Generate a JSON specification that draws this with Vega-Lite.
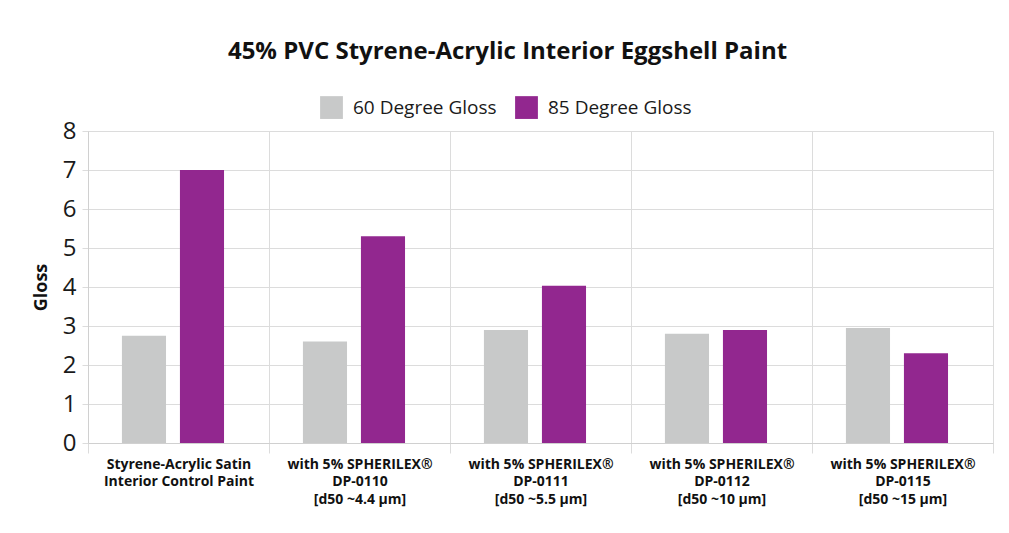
{
  "$schema": "https://vega.github.io/schema/vega-lite/v6.json",
  "width": 905,
  "height": 312,
  "autosize": {"type": "none"},
  "padding": {"left": 88, "top": 131, "right": 16, "bottom": 90},
  "background": "white",
  "title": {
    "text": "45% PVC Styrene-Acrylic Interior Eggshell Paint",
    "font": "Open Sans",
    "fontSize": 24,
    "fontWeight": "bold",
    "color": "#111",
    "anchor": "middle",
    "frame": "group",
    "dx": -33,
    "offset": 32
  },
  "data": {
    "values": [
      {"product": "Styrene-Acrylic Satin|Interior Control Paint", "series": "60 Degree Gloss", "gloss": 2.75},
      {"product": "Styrene-Acrylic Satin|Interior Control Paint", "series": "85 Degree Gloss", "gloss": 7.0},
      {"product": "with 5% SPHERILEX®|DP-0110|[d50 ~4.4 µm]", "series": "60 Degree Gloss", "gloss": 2.6},
      {"product": "with 5% SPHERILEX®|DP-0110|[d50 ~4.4 µm]", "series": "85 Degree Gloss", "gloss": 5.3},
      {"product": "with 5% SPHERILEX®|DP-0111|[d50 ~5.5 µm]", "series": "60 Degree Gloss", "gloss": 2.9},
      {"product": "with 5% SPHERILEX®|DP-0111|[d50 ~5.5 µm]", "series": "85 Degree Gloss", "gloss": 4.03},
      {"product": "with 5% SPHERILEX®|DP-0112|[d50 ~10 µm]", "series": "60 Degree Gloss", "gloss": 2.8},
      {"product": "with 5% SPHERILEX®|DP-0112|[d50 ~10 µm]", "series": "85 Degree Gloss", "gloss": 2.9},
      {"product": "with 5% SPHERILEX®|DP-0115|[d50 ~15 µm]", "series": "60 Degree Gloss", "gloss": 2.95},
      {"product": "with 5% SPHERILEX®|DP-0115|[d50 ~15 µm]", "series": "85 Degree Gloss", "gloss": 2.3}
    ]
  },
  "mark": {"type": "bar"},
  "encoding": {
    "x": {
      "field": "product",
      "type": "nominal",
      "sort": null,
      "scale": {"paddingInner": 0, "paddingOuter": 0},
      "axis": {
        "title": null,
        "labelAngle": 0,
        "labelExpr": "split(datum.label, '|')",
        "labelFont": "Open Sans",
        "labelFontSize": 14,
        "labelFontWeight": "bold",
        "labelColor": "#111",
        "labelLineHeight": 17.5,
        "labelPadding": 4,
        "labelBaseline": "top",
        "tickBand": "extent",
        "tickSize": 10,
        "tickColor": "#dcdcdc",
        "grid": true,
        "gridColor": "#dcdcdc",
        "domainColor": "#d0d0d0"
      }
    },
    "xOffset": {
      "field": "series",
      "type": "nominal",
      "scale": {"paddingInner": 0.24, "paddingOuter": 0.68, "align": 0.43}
    },
    "y": {
      "field": "gloss",
      "type": "quantitative",
      "scale": {"domain": [0, 8], "nice": false},
      "axis": {
        "title": "Gloss",
        "titleFont": "Open Sans",
        "titleFontSize": 18,
        "titleFontWeight": "bold",
        "titleColor": "#111",
        "titlePadding": 12,
        "values": [0, 1, 2, 3, 4, 5, 6, 7, 8],
        "labelFont": "Open Sans",
        "labelFontSize": 24,
        "labelColor": "#1a1a1a",
        "labelPadding": 6,
        "tickSize": 6,
        "tickColor": "#dcdcdc",
        "gridColor": "#dcdcdc",
        "domainColor": "#d0d0d0"
      }
    },
    "color": {
      "field": "series",
      "type": "nominal",
      "scale": {"domain": ["60 Degree Gloss", "85 Degree Gloss"], "range": ["#c8c9c9", "#92278f"]},
      "legend": {
        "title": null,
        "orient": "none",
        "direction": "horizontal",
        "legendX": 232,
        "legendY": -35,
        "symbolType": "square",
        "symbolSize": 520,
        "symbolStrokeWidth": 0,
        "labelFont": "Open Sans",
        "labelFontSize": 19,
        "labelColor": "#1a1a1a",
        "labelOffset": 10,
        "columnPadding": 18
      }
    }
  },
  "config": {
    "view": {"stroke": "#dcdcdc"}
  }
}
